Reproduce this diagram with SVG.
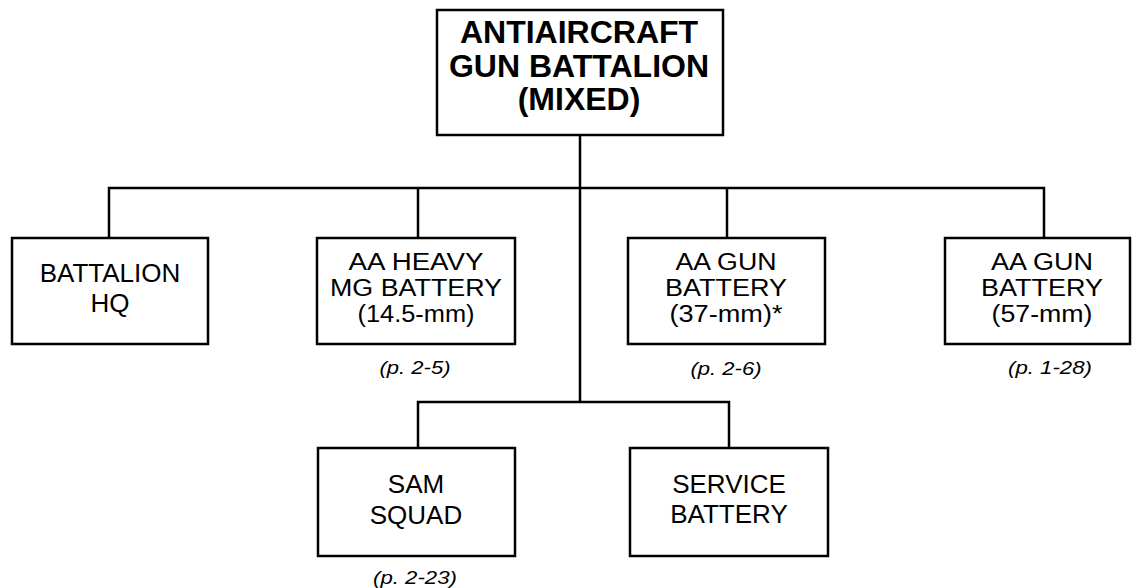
<svg xmlns="http://www.w3.org/2000/svg" width="1132" height="588" viewBox="0 0 1132 588">
<style>
.box{fill:#fff;stroke:#000;stroke-width:2.5}
.ln{fill:none;stroke:#000;stroke-width:2.5}
.t{font-family:"Liberation Sans",Arial,sans-serif;font-size:26px;text-anchor:middle;fill:#000}
.t3{font-family:"Liberation Sans",Arial,sans-serif;font-size:23px;text-anchor:middle;fill:#000}
.tb{font-family:"Liberation Sans",Arial,sans-serif;font-size:32px;font-weight:bold;text-anchor:middle;fill:#000}
.p{font-family:"Liberation Sans",Arial,sans-serif;font-size:19px;font-style:italic;text-anchor:middle;fill:#000}
</style>
<rect width="1132" height="588" fill="#fff"/>
<g id="connectors">
<path class="ln" d="M580 135V402"/>
<path class="ln" d="M109 238V188H1044V238"/>
<path class="ln" d="M418 188V238"/>
<path class="ln" d="M727 188V238"/>
<path class="ln" d="M418 448V402H729V448"/>
</g>
<g id="root">
<rect class="box" x="437" y="10" width="286" height="125"/>
<text class="tb" x="579" y="43">ANTIAIRCRAFT</text>
<text class="tb" x="579" y="77">GUN BATTALION</text>
<text class="tb" x="579" y="110">(MIXED)</text>
</g>
<g id="hq">
<rect class="box" x="12" y="238" width="196" height="106"/>
<text class="t" x="110" y="282">BATTALION</text>
<text class="t" x="110" y="312">HQ</text>
</g>
<g id="hmg">
<rect class="box" x="317" y="238" width="198" height="106"/>
<text class="t3" x="416" y="270" textLength="135" lengthAdjust="spacingAndGlyphs">AA HEAVY</text>
<text class="t3" x="416" y="296" textLength="172" lengthAdjust="spacingAndGlyphs">MG BATTERY</text>
<text class="t3" x="416" y="322" textLength="117" lengthAdjust="spacingAndGlyphs">(14.5-mm)</text>
<text class="p" x="415" y="374" textLength="71" lengthAdjust="spacingAndGlyphs">(p. 2-5)</text>
</g>
<g id="gun37">
<rect class="box" x="628" y="238" width="197" height="106"/>
<text class="t3" x="726" y="270" textLength="101" lengthAdjust="spacingAndGlyphs">AA GUN</text>
<text class="t3" x="726" y="296" textLength="122" lengthAdjust="spacingAndGlyphs">BATTERY</text>
<text class="t3" x="726" y="322" textLength="113" lengthAdjust="spacingAndGlyphs">(37-mm)*</text>
<text class="p" x="726" y="375" textLength="71" lengthAdjust="spacingAndGlyphs">(p. 2-6)</text>
</g>
<g id="gun57">
<rect class="box" x="945" y="238" width="185" height="106"/>
<text class="t3" x="1042" y="270" textLength="102" lengthAdjust="spacingAndGlyphs">AA GUN</text>
<text class="t3" x="1042" y="296" textLength="122" lengthAdjust="spacingAndGlyphs">BATTERY</text>
<text class="t3" x="1042" y="322" textLength="101" lengthAdjust="spacingAndGlyphs">(57-mm)</text>
<text class="p" x="1050" y="374" textLength="84" lengthAdjust="spacingAndGlyphs">(p. 1-28)</text>
</g>
<g id="sam">
<rect class="box" x="318" y="448" width="197" height="108"/>
<text class="t" x="416" y="493">SAM</text>
<text class="t" x="416" y="524">SQUAD</text>
<text class="p" x="415" y="584" textLength="84" lengthAdjust="spacingAndGlyphs">(p. 2-23)</text>
</g>
<g id="service">
<rect class="box" x="630" y="448" width="198" height="108"/>
<text class="t" x="729" y="493">SERVICE</text>
<text class="t" x="729" y="523">BATTERY</text>
</g>
</svg>
